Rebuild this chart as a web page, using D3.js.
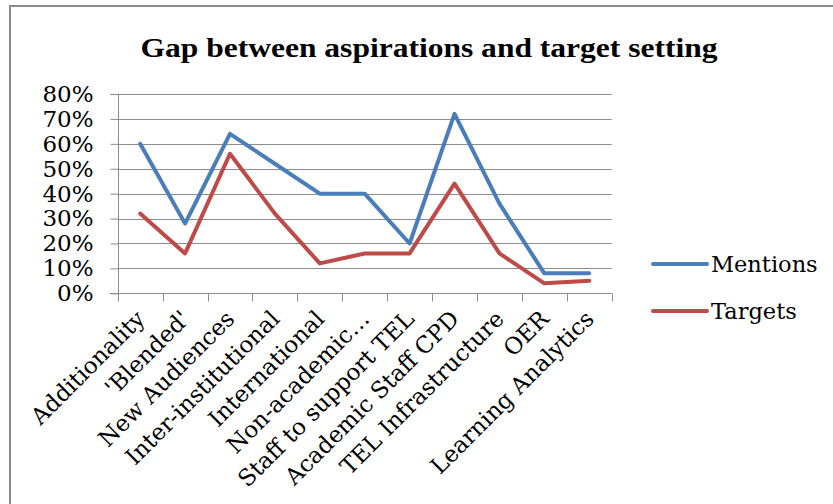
<!DOCTYPE html>
<html><head><meta charset="utf-8">
<script src="https://cdn.jsdelivr.net/npm/d3@7"></script>
<style>
html,body{margin:0;padding:0;background:#fff;}
svg{display:block;}
</style>
</head><body>
<svg id="chart" width="833" height="504"></svg>
<script>
const categories = ["Additionality","'Blended'","New Audiences","Inter-institutional","International","Non-academic…","Staff to support TEL","Academic Staff CPD","TEL Infrastructure","OER","Learning Analytics"];
const mentions = [0.60,0.28,0.64,0.52,0.40,0.40,0.20,0.72,0.36,0.08,0.08];
const targets  = [0.32,0.16,0.56,0.32,0.12,0.16,0.16,0.44,0.16,0.04,0.05];
const yTicks = [0,0.1,0.2,0.3,0.4,0.5,0.6,0.7,0.8];
const seriesNames = ["Mentions","Targets"];
const seriesColors = ["#4A7EBB","#BE4B48"];
const titleText = "Gap between aspirations and target setting";

const svg = d3.select("#chart");
const W = 833, H = 504;
const pLeft = 117.7, pRight = 611.7, pTop = 94, pBottom = 293.3;
const font = "'DejaVu Serif', serif";

// outer border
svg.append("line").attr("x1",9).attr("x2",W).attr("y1",6).attr("y2",6).attr("stroke","#8a8a8a").attr("stroke-width",2);
svg.append("line").attr("x1",10).attr("x2",10).attr("y1",5).attr("y2",H).attr("stroke","#8a8a8a").attr("stroke-width",2);

// title
svg.append("text").attr("x",429).attr("y",57).attr("text-anchor","middle")
  .attr("font-family","'Liberation Serif', serif").attr("font-weight","bold").attr("font-size",28)
  .attr("textLength",577).attr("lengthAdjust","spacingAndGlyphs")
  .attr("fill","#000").text(titleText);

const x = d3.scaleBand().domain(categories).range([pLeft,pRight]).paddingInner(0).paddingOuter(0);
const y = d3.scaleLinear().domain([0,0.8]).range([pBottom,pTop]);

// gridlines
svg.append("g").selectAll("line").data(yTicks.filter(d=>d>0)).join("line")
  .attr("x1",pLeft).attr("x2",pRight).attr("y1",d=>Math.round(y(d))+0.5).attr("y2",d=>Math.round(y(d))+0.5)
  .attr("stroke","#8c8c8c").attr("stroke-width",1);

// y axis
const yAxis = d3.axisLeft(y).tickValues(yTicks).tickFormat(d3.format(".0%")).tickSize(8).tickPadding(17);
const gy = svg.append("g").attr("transform",`translate(${Math.round(pLeft)+0.5},0)`).call(yAxis);
gy.select(".domain").attr("stroke","#8c8c8c").attr("d",`M-8,${Math.round(pBottom)+0.5}H0V${Math.round(pTop)+0.5}H-8`);
gy.selectAll(".tick line").attr("stroke","#8c8c8c");
gy.selectAll(".tick text").attr("font-family",font).attr("font-size",23).attr("fill","#000");

// x axis
const xAxis = d3.axisBottom(x).tickSize(0).tickFormat("");
const gx = svg.append("g").attr("transform",`translate(0,${Math.round(pBottom)+0.5})`).call(xAxis);
gx.select(".domain").attr("stroke","#8c8c8c").attr("d",`M${pLeft-8},0H${pRight}`);
const bounds = categories.map((c,i)=>x(c)).concat([pRight]);
gx.selectAll(".btick").data(bounds).join("line").attr("class","btick")
  .attr("x1",d=>Math.round(d)+0.5).attr("x2",d=>Math.round(d)+0.5).attr("y1",0).attr("y2",8)
  .attr("stroke","#8c8c8c");

// category labels
svg.append("g").selectAll("text").data(categories).join("text")
  .attr("transform",d=>`translate(${x(d)+x.bandwidth()/2+6},${pBottom+27}) rotate(-45)`)
  .attr("text-anchor","end")
  .attr("font-family",font).attr("font-size",23).attr("fill","#000")
  .text(d=>d);

// lines
const line = d3.line().x((d,i)=>x(categories[i])+x.bandwidth()/2).y(d=>y(d));
[mentions,targets].forEach((s,k)=>{
  svg.append("path").datum(s).attr("d",line).attr("fill","none")
    .attr("stroke",seriesColors[k]).attr("stroke-width",4).attr("stroke-linejoin","round").attr("stroke-linecap","round");
});

// legend
const legY = [264,311];
seriesNames.forEach((n,k)=>{
  svg.append("line").attr("x1",653).attr("x2",707).attr("y1",legY[k]).attr("y2",legY[k])
    .attr("stroke",seriesColors[k]).attr("stroke-width",4).attr("stroke-linecap","round");
  svg.append("text").attr("x",711).attr("y",legY[k]+8).attr("font-family",font).attr("font-size",22.5)
    .attr("fill","#000").text(n);
});
</script>
</body></html>
